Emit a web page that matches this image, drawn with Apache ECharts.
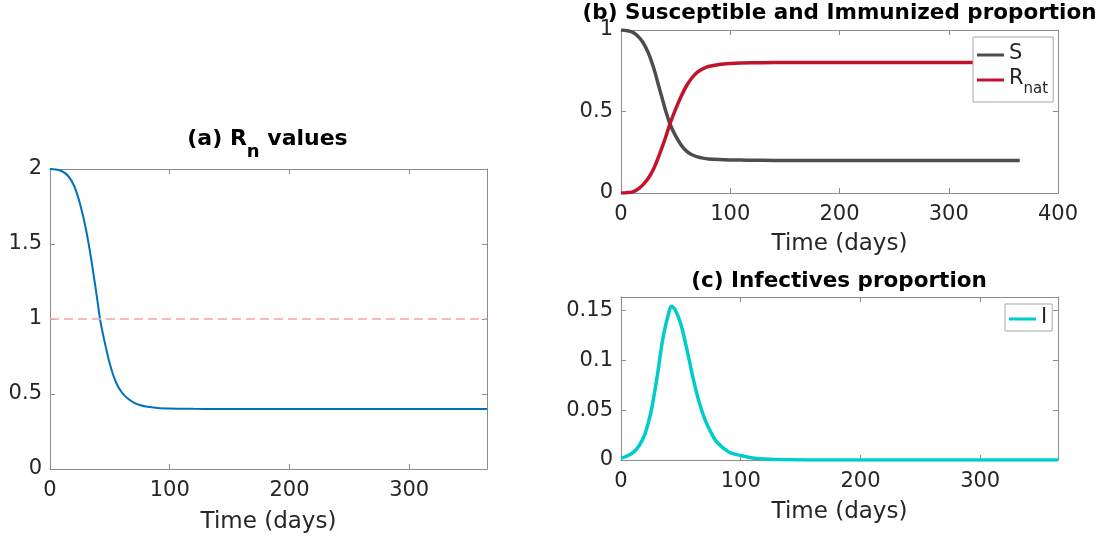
<!DOCTYPE html>
<html>
<head>
<meta charset="utf-8">
<script src="https://cdn.jsdelivr.net/npm/echarts@6/dist/echarts.min.js"></script>
<style>
html,body{margin:0;padding:0;background:#fff;}
#c{width:1104px;height:545px;}
</style>
</head>
<body>
<div id="c"></div>
<script>
// ---- data ----
const days = [0, 5, 10, 15, 20, 25, 30, 35, 40, 42, 45, 50, 55, 60, 65, 70, 75, 80, 90, 100, 110, 120, 140, 160, 200, 250, 300, 365];
const Rn   = [2.000, 1.997, 1.985, 1.955, 1.890, 1.770, 1.600, 1.370, 1.100, 0.990, 0.870, 0.700, 0.580, 0.510, 0.470, 0.443, 0.427, 0.417, 0.407, 0.403, 0.402, 0.401, 0.400, 0.400, 0.400, 0.400, 0.400, 0.400];
const S    = [1.000, 0.996, 0.988, 0.965, 0.925, 0.860, 0.765, 0.645, 0.525, 0.480, 0.420, 0.350, 0.295, 0.257, 0.235, 0.222, 0.214, 0.209, 0.205, 0.203, 0.202, 0.201, 0.200, 0.200, 0.200, 0.200, 0.200, 0.200];
const Rnat = [0.000, 0.002, 0.005, 0.021, 0.050, 0.090, 0.150, 0.233, 0.325, 0.366, 0.428, 0.515, 0.592, 0.658, 0.707, 0.741, 0.762, 0.776, 0.789, 0.795, 0.798, 0.799, 0.800, 0.800, 0.800, 0.800, 0.800, 0.800];
const I    = [0.0017, 0.004, 0.0073, 0.014, 0.026, 0.048, 0.082, 0.122, 0.148, 0.154, 0.151, 0.136, 0.111, 0.083, 0.059, 0.041, 0.028, 0.018, 0.008, 0.0045, 0.002, 0.0009, 0.0002, 0.00005, 0, 0, 0, 0];
const threshold = 1;
const titles = ['(a) R', 'n', ' values', '(b) Susceptible and Immunized proportion', '(c) Infectives proportion'];
const xName = 'Time (days)';

const pairs = (ys) => days.map((d, i) => [d, ys[i]]);
const FONT = 'DejaVu Sans';
const AX = '#8c8c8c';
const TXT = '#262626';
const axLine = { show: true, onZero: false, lineStyle: { color: AX, width: 1 } };
const axTick = { show: true, inside: true, length: 5, lineStyle: { color: AX } };

function xAxes(grid, max, showMax) {
  return [
    { type: 'value', gridIndex: grid, position: 'bottom', min: 0, max: max, interval: 100,
      name: xName, nameLocation: 'middle', nameGap: [42, 40, 41][grid],
      nameTextStyle: { fontFamily: FONT, fontSize: 23, color: TXT },
      axisLine: axLine, axisTick: axTick,
      axisLabel: { fontFamily: FONT, fontSize: 21, color: TXT, margin: 11, showMaxLabel: showMax },
      splitLine: { show: false } },
    { type: 'value', gridIndex: grid, position: 'top', min: 0, max: max, interval: 100,
      axisLine: axLine, axisTick: axTick,
      axisLabel: { show: false }, splitLine: { show: false } }
  ];
}
function yAxes(grid, max, interval) {
  return [
    { type: 'value', gridIndex: grid, position: 'left', min: 0, max: max, interval: interval,
      axisLine: axLine, axisTick: axTick,
      axisLabel: { fontFamily: FONT, fontSize: 21, color: TXT, margin: 8, showMaxLabel: grid !== 2 },
      splitLine: { show: false } },
    { type: 'value', gridIndex: grid, position: 'right', min: 0, max: max, interval: interval,
      axisLine: axLine, axisTick: axTick,
      axisLabel: { show: false }, splitLine: { show: false } }
  ];
}

const chart = echarts.init(document.getElementById('c'), null, { renderer: 'canvas' });
const legendText = { fontFamily: FONT, fontSize: 21, color: TXT,
  rich: { m: { fontFamily: FONT, fontSize: 21, lineHeight: 24, verticalAlign: 'top', color: TXT },
          s: { fontFamily: FONT, fontSize: 15, lineHeight: 15, padding: [14, 0, 0, 0], verticalAlign: 'top', color: TXT } } };
const lineBase = { type: 'line', showSymbol: false, smooth: 0.3 };

chart.setOption({
  animation: false,
  backgroundColor: '#fff',
  grid: [
    { left: 50, top: 169, width: 437, height: 300 },
    { left: 621, top: 30, width: 437, height: 163 },
    { left: 621, top: 297, width: 437, height: 163 }
  ],
  xAxis: [].concat(xAxes(0, 365, false), xAxes(1, 400, true), xAxes(2, 365, false)),
  yAxis: [].concat(yAxes(0, 2, 0.5), yAxes(1, 1, 0.5), yAxes(2, 0.1633, 0.05)),
  legend: [
    { data: ['S', 'Rnat'], orient: 'vertical', left: 973, top: 37, padding: [6, 5, 5, 4],
      itemWidth: 27, itemHeight: 3, itemGap: 4, icon: 'rect',
      borderColor: '#a8a8a8', borderWidth: 1, backgroundColor: '#fff',
      formatter: (n) => n === 'Rnat' ? '{m|R}{s|nat}' : '{m|' + n + '}',
      textStyle: legendText },
    { data: ['I'], orient: 'vertical', left: 1005, top: 304, padding: [3, 5, 3, 4],
      itemWidth: 27, itemHeight: 3, icon: 'rect',
      borderColor: '#a8a8a8', borderWidth: 1, backgroundColor: '#fff',
      formatter: (n) => '{m|' + n + '}',
      textStyle: legendText }
  ],
  series: [
    Object.assign({}, lineBase, { name: 'Rn', xAxisIndex: 0, yAxisIndex: 0, data: pairs(Rn),
      lineStyle: { color: '#0072BD', width: 2 }, itemStyle: { color: '#0072BD' },
      markLine: { silent: true, symbol: 'none', label: { show: false },
        lineStyle: { color: '#f5a3a3', type: [9, 5], width: 1.5 },
        data: [{ yAxis: threshold }] } }),
    Object.assign({}, lineBase, { name: 'S', xAxisIndex: 2, yAxisIndex: 2, data: pairs(S),
      lineStyle: { color: '#4d4d4d', width: 3.5 }, itemStyle: { color: '#4d4d4d' } }),
    Object.assign({}, lineBase, { name: 'Rnat', xAxisIndex: 2, yAxisIndex: 2, data: pairs(Rnat),
      lineStyle: { color: '#c0142b', width: 3.5 }, itemStyle: { color: '#c0142b' } }),
    Object.assign({}, lineBase, { name: 'I', xAxisIndex: 4, yAxisIndex: 4, data: pairs(I),
      lineStyle: { color: '#00cccc', width: 3.5 }, itemStyle: { color: '#00cccc' } })
  ],
  graphic: [
    { type: 'text', x: 267.5, y: 128, style: {
        text: '{b|' + titles[0] + '}{s|' + titles[1] + '}{b|' + titles[2] + '}',
        align: 'center', verticalAlign: 'top',
        rich: { b: { fontFamily: FONT, fontWeight: 'bold', fontSize: 22, lineHeight: 24, verticalAlign: 'top', fill: '#000' },
                s: { fontFamily: FONT, fontWeight: 'bold', fontSize: 18, lineHeight: 18, padding: [15, 0, 0, 0], verticalAlign: 'top', fill: '#000' } } } },
    { type: 'text', x: 839.5, y: 13.5, style: {
        text: titles[3], fontFamily: FONT, fontWeight: 'bold', fontSize: 21.5, fill: '#000',
        align: 'center', verticalAlign: 'middle' } },
    { type: 'text', x: 839, y: 281.5, style: {
        text: titles[4], fontFamily: FONT, fontWeight: 'bold', fontSize: 21.5, fill: '#000',
        align: 'center', verticalAlign: 'middle' } }
  ]
});
</script>
</body>
</html>
